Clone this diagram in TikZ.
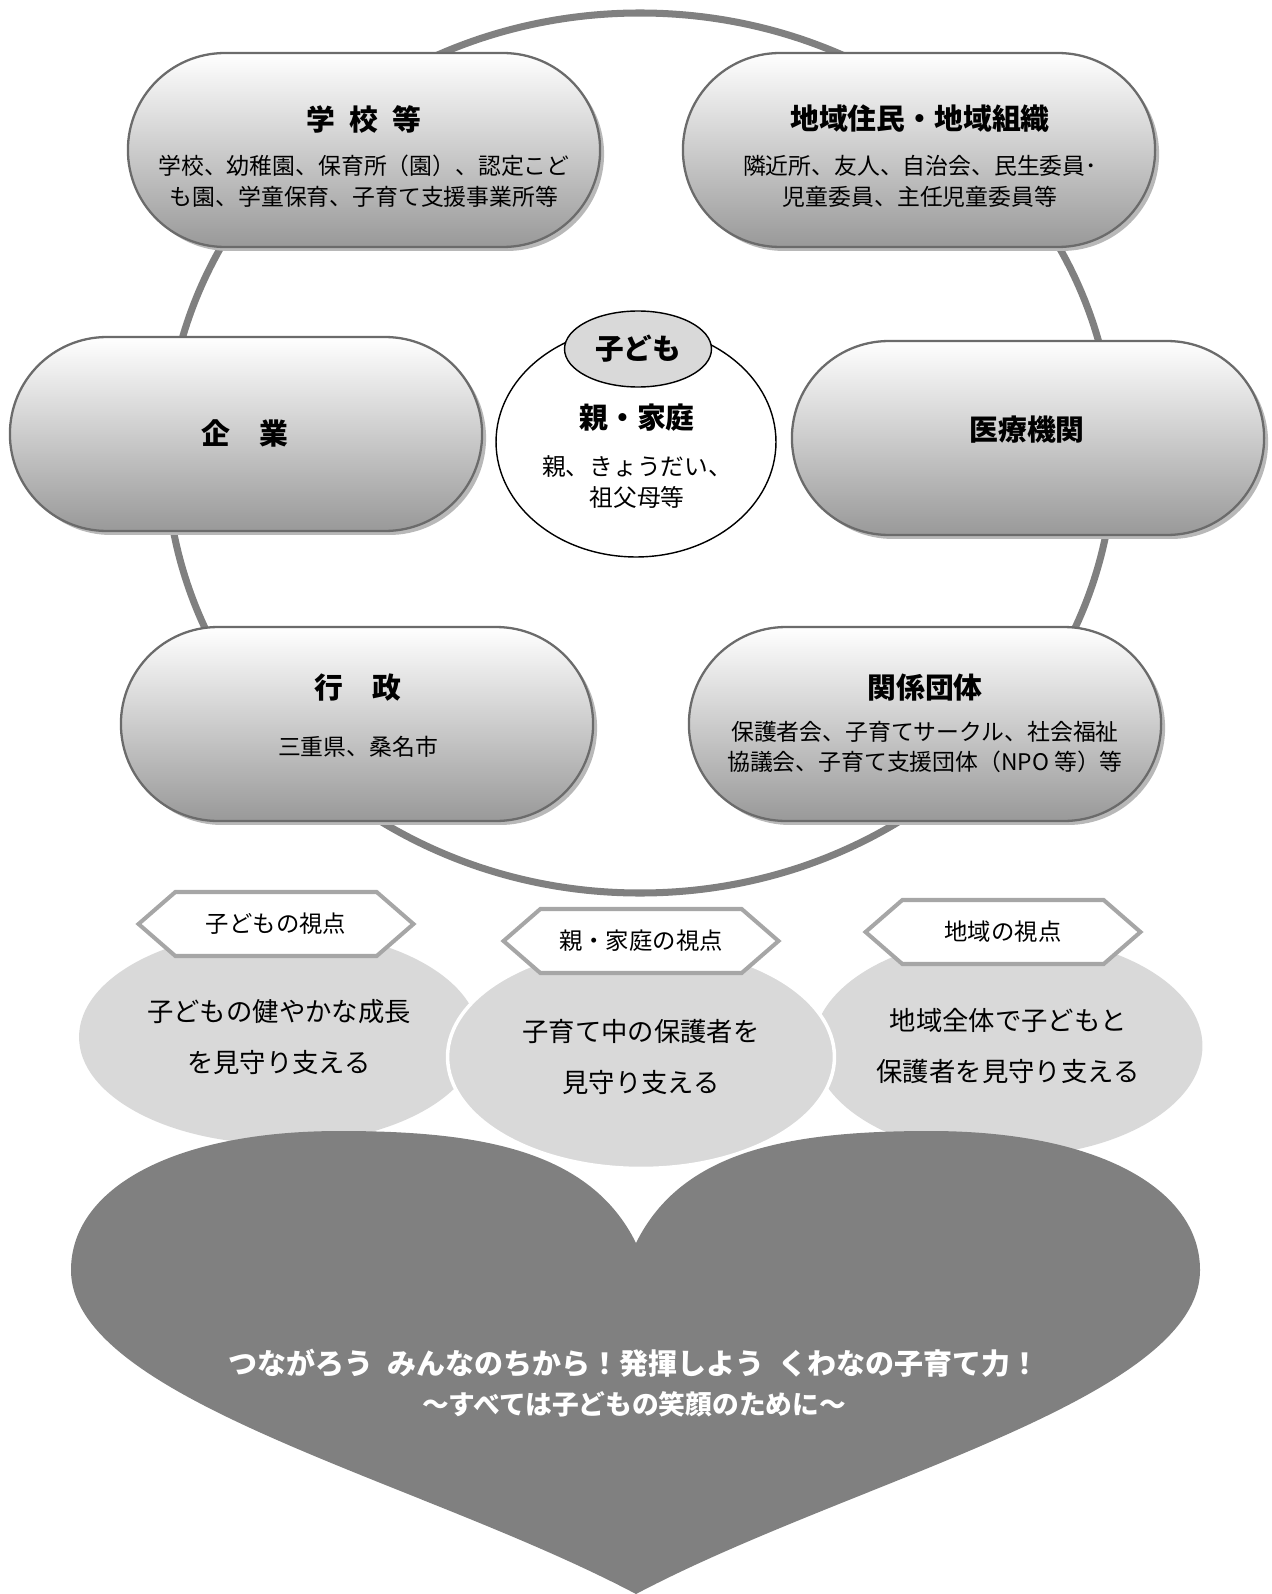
\documentclass[tikz,border=0pt]{standalone}
\usepackage{fontspec}
\setmainfont{Noto Sans CJK JP}
\usetikzlibrary{shapes.misc,shapes.geometric,shapes.symbols,shadows}

\begin{document}
\begin{tikzpicture}[x=0.02cm,y=-0.02cm,
        ring/.style={draw=black!50,line width=4pt},
        pill/.style={rounded rectangle,draw=black!58,line width=1.3pt,top color=white,bottom color=black!40,
          minimum width=9.68cm,minimum height=3.88cm,
          drop shadow={shadow xshift=0.08cm,shadow yshift=-0.08cm,fill=black!28,opacity=1}},
        ttl/.style={font=\fontsize{16.4}{20}\selectfont\bfseries},
        body/.style={font=\fontsize{13}{17.6}\selectfont,align=center},
        bubble/.style={ellipse,fill=black!15,minimum width=7.8cm,minimum height=4.4cm,
          font=\fontsize{15}{29.5}\selectfont,align=center},
        view/.style={signal,signal to=west and east,signal pointer angle=82,draw=black!35,line width=2.3pt,
          fill=white,minimum width=5.5cm,minimum height=1.28cm,inner sep=0pt,font=\fontsize{13.3}{16}\selectfont}
      ]

      \useasboundingbox (0,0) rectangle (1271,1594);

      \draw[ring] (640,453) ellipse [x radius=474, y radius=440];

      \node[pill] (school)  at (364,150) {};
      \node[pill] (region)  at (919,150) {};
      \node[pill] (company) at (246,434) {};
      \node[pill] (medical) at (1028,438) {};
      \node[pill] (admin)   at (357,724) {};
      \node[pill] (groups)  at (925,724) {};

      \node[ellipse,draw,line width=0.8pt,fill=white,minimum width=5.6cm,minimum height=4.6cm] (family) at (636,442) {};
      \node[ellipse,draw,line width=0.8pt,fill=black!15,minimum width=2.94cm,minimum height=1.52cm,
        font=\fontsize{16.3}{20}\selectfont\bfseries] (child) at (638,349) {子ども};

      \path (364,119) node[ttl] (schoolttl) {学\hspace{.5em}校\hspace{.5em}等};
      \path (364,181) node[body] (schooltxt) {学校、幼稚園、保育所（園）、認定こど\\も園、学童保育、子育て支援事業所等};
      \path (920,119) node[ttl] (regionttl) {地域住民・地域組織};
      \path (920,181) node[body] (regiontxt) {隣近所、友人、自治会、民生委員･\\児童委員、主任児童委員等};
      \path (245,433) node[ttl] (companyttl) {企　業};
      \path (1027,430) node[ttl] (medicalttl) {医療機関};
      \path (358,688) node[ttl] (adminttl) {行　政};
      \path (358,747) node[body] (admintxt) {三重県、桑名市};
      \path (925,688) node[ttl] (groupsttl) {関係団体};
      \path (925,747) node[body] (groupstxt) {保護者会、子育てサークル、社会福祉\\協議会、子育て支援団体（NPO 等）等};
      \path (637,418) node[ttl] (familyttl) {親・家庭};
      \path (637,482) node[body,font=\fontsize{13.5}{18}\selectfont] (familytxt) {親、きょうだい、\\祖父母等};

      \node[bubble,minimum width=8cm,minimum height=4.28cm] (childview) at (279,1037) {子どもの健やかな成長\\を見守り支える};
      \node[bubble,minimum width=7.78cm,minimum height=4.42cm] (areaview) at (1008,1046) {地域全体で子どもと\\保護者を見守り支える};
      \node[bubble,draw=white,line width=2pt,minimum width=7.74cm,minimum height=4.46cm] (homeview) at (641,1057) {子育て中の保護者を\\見守り支える};

      \node[view] (childtag) at (276,924) {子どもの視点};
      \node[view] (hometag)  at (641,941) {親・家庭の視点};
      \node[view] (areatag)  at (1003,932) {地域の視点};

      \fill[black!50] (636,1243) .. controls (590,1150) and (480,1131) .. (340,1131)
        .. controls (170,1131) and (71,1190) .. (71,1270)
        .. controls (71,1400) and (420,1480) .. (636,1594)
        .. controls (852,1480) and (1200,1400) .. (1200,1270)
        .. controls (1200,1190) and (1100,1131) .. (930,1131)
        .. controls (790,1131) and (682,1150) .. (636,1243) -- cycle;
      \path (634,1383) node[text=white,align=center,font=\fontsize{15.2}{22.7}\selectfont\bfseries] (motto)
        {{\fontsize{16.5}{22.7}\selectfont つながろう\hspace{.5em}みんなのちから！発揮しよう\hspace{.5em}くわなの子育て力！}\\～すべては子どもの笑顔のために～};

    \end{tikzpicture}
\end{document}
